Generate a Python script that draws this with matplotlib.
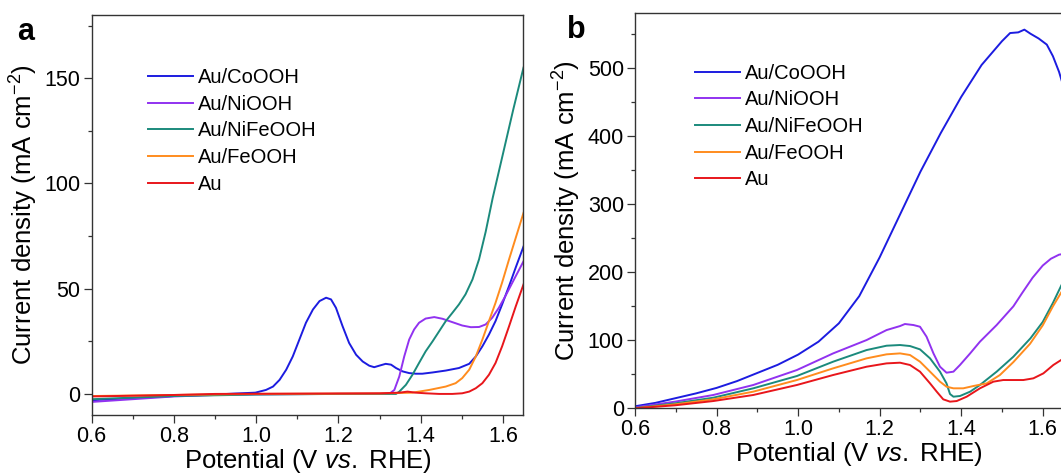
import matplotlib
matplotlib.use("Agg")
import matplotlib.pyplot as plt
from matplotlib.ticker import MultipleLocator

plt.rcParams['font.family'] = ['Liberation Sans', 'DejaVu Sans']
plt.rcParams['mathtext.fontset'] = 'custom'
plt.rcParams['mathtext.rm'] = 'Liberation Sans'
plt.rcParams['mathtext.it'] = 'Liberation Sans:italic'

labels = ['Au/CoOOH', 'Au/NiOOH', 'Au/NiFeOOH', 'Au/FeOOH', 'Au']
colors = ['#1c1ce0', '#9132f0', '#1b8a7c', '#ff8c1e', '#e8161b']

# ---- panel a: potential (V) and current density (mA cm-2)
a_co_x = [0.60, 0.70, 0.80, 0.90, 0.95, 0.998, 1.024, 1.041, 1.057, 1.073, 1.089, 1.105,
          1.121, 1.138, 1.154, 1.170, 1.182, 1.194, 1.210, 1.226, 1.243, 1.259, 1.275,
          1.287, 1.299, 1.315, 1.328, 1.340, 1.356, 1.372, 1.388, 1.404, 1.429, 1.461,
          1.493, 1.518, 1.534, 1.550, 1.566, 1.582, 1.598, 1.615, 1.631, 1.650]
a_co_y = [-3.0, -2.0, -1.0, -0.3, 0.2, 0.6, 1.9, 3.5, 6.7, 11.5, 17.8, 25.8,
          33.8, 40.1, 44.1, 45.7, 44.9, 40.9, 32.2, 24.2, 18.6, 15.4, 13.4,
          12.7, 13.4, 14.3, 13.9, 12.3, 10.7, 9.9, 9.6, 9.6, 10.2, 11.1,
          12.3, 14.3, 17.8, 22.6, 28.2, 34.6, 42.5, 51.3, 60.0, 70.0]

a_ni_x = [0.60, 0.70, 0.80, 0.90, 1.00, 1.20, 1.3235, 1.336, 1.348, 1.360, 1.372, 1.384,
          1.396, 1.412, 1.433, 1.453, 1.477, 1.501, 1.522, 1.542, 1.558, 1.574, 1.590,
          1.606, 1.623, 1.650]
a_ni_y = [-3.8, -2.5, -1.2, -0.5, -0.2, 0.0, 0.0, 1.9, 8.3, 17.8, 25.8, 30.6,
          33.8, 35.8, 36.5, 35.7, 34.1, 32.5, 31.7, 31.8, 33.0, 36.2, 40.9,
          46.5, 52.9, 63.0]

a_nife_x = [0.60, 0.80, 1.00, 1.20, 1.34, 1.348, 1.364, 1.380, 1.396, 1.412, 1.429, 1.445,
            1.461, 1.477, 1.493, 1.509, 1.526, 1.542, 1.558, 1.575, 1.600, 1.625, 1.650]
a_nife_y = [-2.5, -1.0, -0.3, 0.0, 0.0, 1.1, 4.3, 9.1, 14.7, 20.2, 25.0, 29.8,
            34.6, 38.5, 42.5, 47.3, 54.4, 64.0, 77.0, 93.0, 114.0, 135.0, 155.0]

a_fe_x = [0.60, 0.80, 1.00, 1.30, 1.380, 1.421, 1.461, 1.485, 1.501, 1.518, 1.534, 1.550,
          1.566, 1.582, 1.598, 1.615, 1.650]
a_fe_y = [-1.0, -0.5, 0.0, 0.2, 0.6, 1.9, 3.5, 5.1, 7.5, 11.5, 17.8, 25.8,
          34.6, 43.3, 52.9, 64.0, 86.0]

a_au_x = [0.60, 0.80, 0.90, 1.30, 1.348, 1.368, 1.388, 1.412, 1.445, 1.477, 1.501, 1.518,
          1.534, 1.550, 1.566, 1.582, 1.598, 1.615, 1.631, 1.650]
a_au_y = [-1.2, -0.5, 0.0, 0.3, 0.6, 1.1, 0.6, 0.3, 0.0, 0.0, 0.3, 1.1,
          2.7, 5.1, 9.1, 14.7, 22.6, 32.2, 41.5, 52.0]

# ---- panel b
b_co_x = [0.60, 0.65, 0.70, 0.75, 0.80, 0.85, 0.90, 0.95, 1.00, 1.05, 1.10, 1.15,
          1.20, 1.25, 1.30, 1.35, 1.40, 1.45, 1.50, 1.52, 1.54, 1.555, 1.57, 1.59,
          1.61, 1.625, 1.64, 1.66]
b_co_y = [3, 8, 15, 22, 30, 40, 52, 64, 79, 98, 125, 165,
          222, 285, 348, 405, 458, 505, 540, 552, 553, 557, 551, 544,
          535, 518, 495, 455]

b_ni_x = [0.600, 0.698, 0.792, 0.890, 0.997, 1.086, 1.168, 1.217, 1.250, 1.262, 1.283,
          1.299, 1.315, 1.332, 1.348, 1.364, 1.381, 1.397, 1.422, 1.446, 1.487, 1.528,
          1.550, 1.575, 1.600, 1.620, 1.640, 1.660]
b_ni_y = [1.4, 9.8, 19.6, 34.3, 56.3, 80.8, 100.4, 115.1, 121.0, 124.0, 122.5,
          120.0, 105.4, 80.8, 61.2, 52.4, 53.9, 63.7, 80.8, 98.0, 122.5, 150.0,
          170.0, 192.0, 210.0, 220.0, 226.0, 228.0]

b_nife_x = [0.600, 0.698, 0.792, 0.890, 0.997, 1.086, 1.168, 1.217, 1.250, 1.2745, 1.299,
            1.3236, 1.348, 1.364, 1.3726, 1.381, 1.397, 1.422, 1.446, 1.487, 1.528, 1.570,
            1.600, 1.625, 1.645, 1.670]
b_nife_y = [0.4, 7.3, 15.6, 29.4, 47.5, 68.6, 85.7, 92.1, 93.1, 91.6, 86.7,
            73.5, 53.9, 36.7, 21.0, 17.1, 18.1, 24.5, 34.3, 53.9, 75.9, 103.0,
            127.0, 155.0, 180.0, 210.0]

b_fe_x = [0.600, 0.698, 0.792, 0.890, 0.997, 1.086, 1.168, 1.217, 1.250, 1.2745, 1.299,
          1.3236, 1.348, 1.364, 1.381, 1.405, 1.430, 1.4626, 1.495, 1.528, 1.569, 1.600,
          1.625, 1.645, 1.670]
b_fe_y = [0.0, 5.8, 13.2, 24.5, 41.6, 58.8, 73.5, 79.4, 80.8, 78.4, 68.6,
          53.9, 39.2, 31.8, 29.4, 29.4, 32.8, 36.7, 49.0, 68.0, 95.0, 122.0,
          150.0, 170.0, 195.0]

b_au_x = [0.600, 0.698, 0.792, 0.890, 0.997, 1.086, 1.168, 1.217, 1.250, 1.2745, 1.299,
          1.3236, 1.340, 1.356, 1.3726, 1.389, 1.4135, 1.446, 1.479, 1.503, 1.528, 1.5525,
          1.577, 1.6016, 1.626, 1.645, 1.670]
b_au_y = [0.0, 4.4, 10.7, 19.6, 34.3, 49.0, 61.2, 66.1, 67.1, 63.7, 53.9,
          36.7, 24.5, 13.2, 9.8, 10.7, 17.1, 29.4, 39.2, 41.6, 41.6, 41.6,
          44.1, 51.4, 63.7, 71.0, 82.0]

panel_a = [(a_co_x, a_co_y), (a_ni_x, a_ni_y), (a_nife_x, a_nife_y), (a_fe_x, a_fe_y), (a_au_x, a_au_y)]
panel_b = [(b_co_x, b_co_y), (b_ni_x, b_ni_y), (b_nife_x, b_nife_y), (b_fe_x, b_fe_y), (b_au_x, b_au_y)]

fig = plt.figure(figsize=(10.61, 4.76), dpi=100)
ax_a = fig.add_axes([0.0864, 0.1282, 0.4070, 0.8403])
ax_b = fig.add_axes([0.5985, 0.1422, 0.4227, 0.8298])

for ax, data in [(ax_a, panel_a), (ax_b, panel_b)]:
    for (xs, ys), lab, c in zip(data, labels, colors):
        ax.plot(xs, ys, color=c, lw=1.4, label=lab)
    ax.xaxis.set_major_locator(MultipleLocator(0.2))
    ax.xaxis.set_minor_locator(MultipleLocator(0.1))
    ax.tick_params(which='both', direction='out', labelsize=15.5, color='#333333')
    ax.tick_params(which='major', length=6, width=0.9)
    ax.tick_params(which='minor', length=3, width=0.9)
    ax.tick_params(axis='y', pad=2)
    ax.tick_params(axis='x', pad=2)
    for sp in ax.spines.values():
        sp.set_color('#333333')
        sp.set_linewidth(1.0)
    ax.set_xlabel('Potential (V $\\mathit{vs.}$ RHE)', fontsize=18.5, labelpad=0)
    ax.set_ylabel('Current density (mA cm$^{\\mathregular{-2}}$)', fontsize=18.5, labelpad=3)

ax_a.set_xlim(0.6, 1.65)
ax_a.set_ylim(-10, 180)
ax_a.yaxis.set_major_locator(MultipleLocator(50))
ax_a.yaxis.set_minor_locator(MultipleLocator(25))

ax_b.set_xlim(0.6, 1.7)
ax_b.set_ylim(0, 581)
ax_b.yaxis.set_major_locator(MultipleLocator(100))
ax_b.yaxis.set_minor_locator(MultipleLocator(50))

leg_kw = dict(loc='upper left', frameon=False, fontsize=14.5, borderpad=0, borderaxespad=0,
              handlelength=2.24, handletextpad=0.25, labelspacing=0.38)
ax_a.legend(bbox_to_anchor=(0.1395, 0.857), bbox_transform=fig.transFigure, **leg_kw)
ax_b.legend(bbox_to_anchor=(0.655, 0.866), bbox_transform=fig.transFigure, **leg_kw)

fig.text(17 / 1061, 1 - 40 / 476, 'a', fontsize=22, fontweight='bold', va='baseline')
fig.text(567 / 1061, 1 - 38 / 476, 'b', fontsize=22, fontweight='bold', va='baseline')

fig.savefig('out.png', dpi=100)
